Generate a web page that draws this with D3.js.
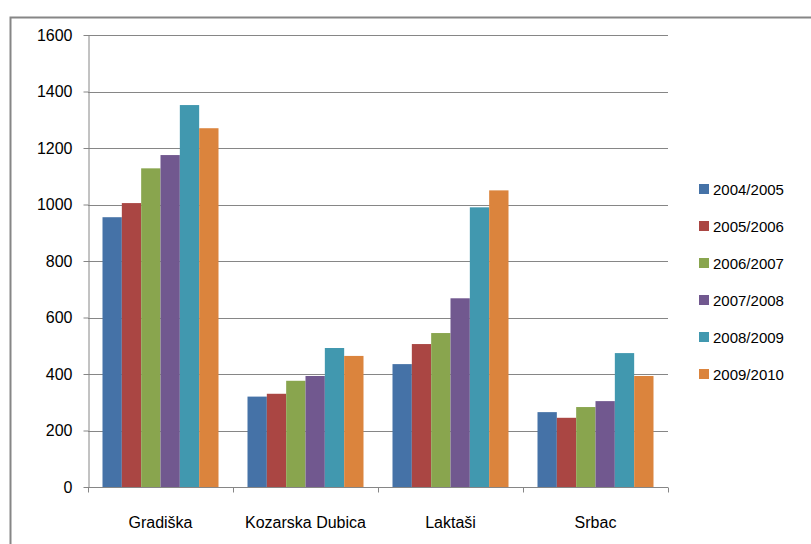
<!DOCTYPE html>
<html><head><meta charset="utf-8">
<script src="https://cdn.jsdelivr.net/npm/d3@7/dist/d3.min.js"></script>
<style>body{margin:0;background:#fff}svg{display:block}text{font-family:"Liberation Sans",Arial,sans-serif;fill:#000}</style>
</head><body>
<svg id="c" width="811" height="544"></svg>
<script>
const categories = ["Gradiška","Kozarska Dubica","Laktaši","Srbac"];
const seriesNames = ["2004/2005","2005/2006","2006/2007","2007/2008","2008/2009","2009/2010"];
const s2004 = [955, 320, 435, 265];
const s2005 = [1005, 330, 506, 245];
const s2006 = [1128, 376, 545, 283];
const s2007 = [1175, 393, 668, 304];
const s2008 = [1352, 492, 990, 474];
const s2009 = [1270, 464, 1050, 393];
const yTicks = [0,200,400,600,800,1000,1200,1400,1600];
const colors = ["#4572A7","#AA4643","#89A54E","#71588F","#4198AF","#DB843D"];
const seriesVals = [s2004,s2005,s2006,s2007,s2008,s2009];

const svg = d3.select("#c");
const L=88,R=668,T=35,B=487;
// outer border
svg.append("rect").attr("x",10.5).attr("y",17.5).attr("width",900).attr("height",600)
  .attr("fill","none").attr("stroke","#868686").attr("stroke-width",2);

const y = d3.scaleLinear().domain([0,1600]).range([B,T]);
const x0 = d3.scaleBand().domain(categories).range([L,R]).paddingInner(0.2).paddingOuter(0.1);
const xb = d3.scaleBand().domain(categories).range([L,R]);
const x1 = d3.scaleBand().domain(seriesNames).range([0,x0.bandwidth()]);

// gridlines
svg.append("g").selectAll("line").data(yTicks.filter(d=>d>0)).join("line")
  .attr("x1",L).attr("x2",R).attr("y1",d=>Math.round(y(d))+0.5).attr("y2",d=>Math.round(y(d))+0.5)
  .attr("stroke","#868686").attr("stroke-width",1);

// bars
const g = svg.append("g");
seriesNames.forEach((s,i)=>{
  g.append("g").selectAll("rect").data(categories).join("rect")
    .attr("x",(c)=>x0(c)+x1(s)).attr("width",x1.bandwidth())
    .attr("y",(c,j)=>y(seriesVals[i][j])).attr("height",(c,j)=>B-y(seriesVals[i][j]))
    .attr("fill",colors[i]);
});

// y axis
const ya = svg.append("g").attr("transform",`translate(${L+0.5},0)`)
  .call(d3.axisLeft(y).tickValues(yTicks).tickFormat(d3.format("d")).tickSize(5).tickSizeOuter(0).tickPadding(11));
ya.select(".domain").attr("stroke","#868686");
ya.selectAll(".tick line").attr("stroke","#868686");
ya.selectAll("text").attr("font-size",16).attr("font-family","Liberation Sans, Arial");

// x axis
const xa = svg.append("g").attr("transform",`translate(0,${B+0.5})`);
xa.append("line").attr("x1",L).attr("x2",R).attr("stroke","#868686");
const bounds = [L].concat(categories.map(c=>xb(c)+xb.bandwidth()));
xa.selectAll(".tk").data(bounds).join("line").attr("class","tk")
  .attr("x1",d=>d+0.5).attr("x2",d=>d+0.5).attr("y1",0).attr("y2",5).attr("stroke","#868686");
xa.selectAll(".lb").data(categories).join("text").attr("class","lb")
  .attr("x",d=>xb(d)+xb.bandwidth()/2).attr("y",40).attr("text-anchor","middle")
  .attr("font-size",16).text(d=>d);

// legend
const lg = svg.append("g");
seriesNames.forEach((s,i)=>{
  const yy = 189 + i*37;
  lg.append("rect").attr("x",699).attr("y",yy-5).attr("width",10).attr("height",10).attr("fill",colors[i]);
  lg.append("text").attr("x",713).attr("y",yy+5.5).attr("font-size",15).text(s);
});
</script>
</body></html>
